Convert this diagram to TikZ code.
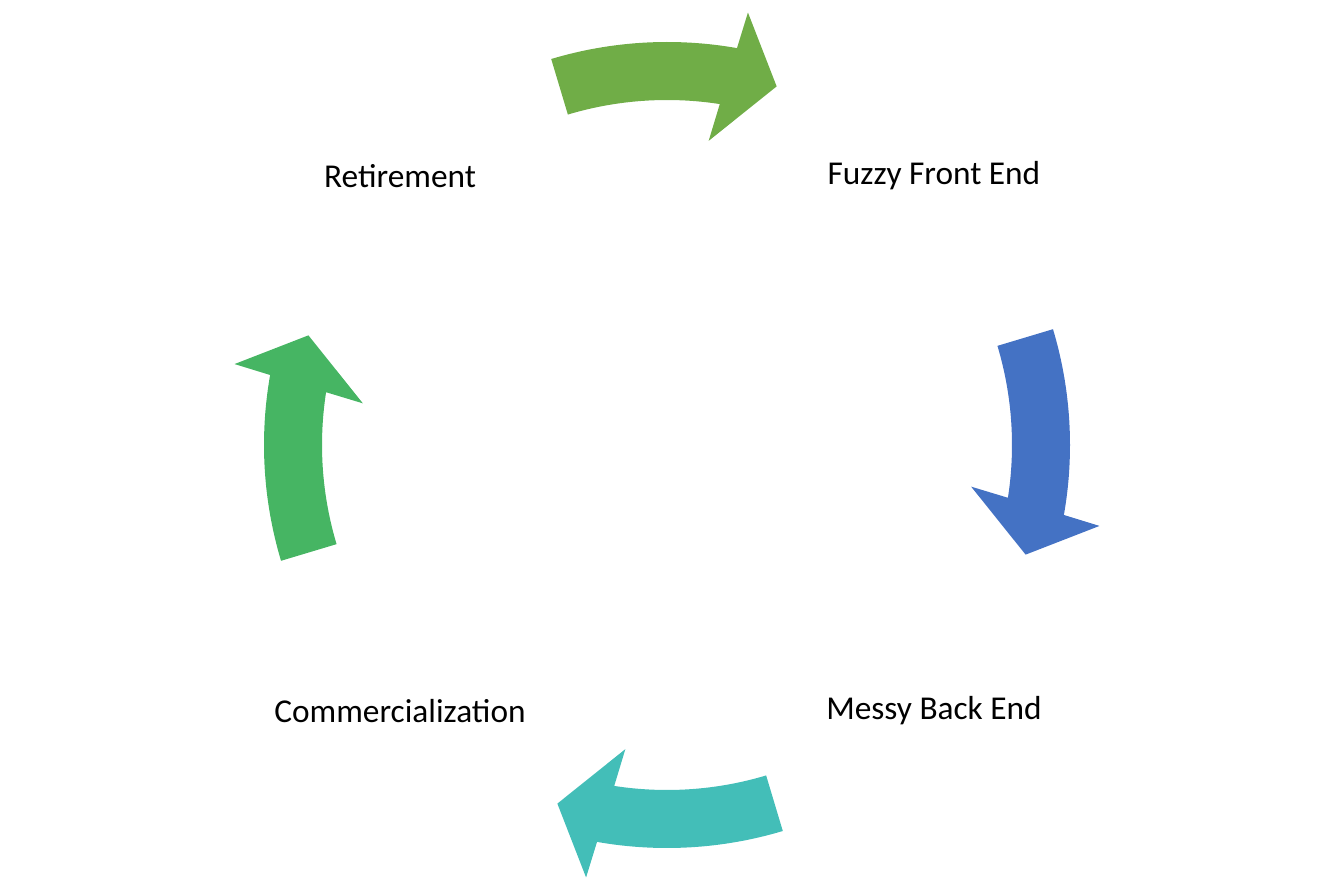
\documentclass[tikz,border=0pt]{standalone}
\usepackage{fontspec}
\setmainfont{Carlito}
\definecolor{cA}{HTML}{70AD47}
\definecolor{cB}{HTML}{4472C4}
\definecolor{cC}{HTML}{43BEB8}
\definecolor{cD}{HTML}{46B563}
\tikzset{lbl/.style={font=\fontsize{25}{30}\selectfont}}
\newcommand{\cycarrow}[2]{%
\fill[#2] ([shift={(667,444)}]#1+16.7:403) arc[start angle=#1+16.7,end angle=#1-10,radius=403]
 -- ([shift={(667,444)}]#1-10.6:440) -- ([shift={(667,444)}]#1-17:375)
 -- ([shift={(667,444)}]#1-7.8:307) -- ([shift={(667,444)}]#1-8.8:345)
 arc[start angle=#1-8.8,end angle=#1+16.7,radius=345] -- cycle;}
\begin{document}
\begin{tikzpicture}[x=0.75pt,y=0.75pt]
\useasboundingbox (0,0) rectangle (1334,889);
\cycarrow{90}{cA}
\cycarrow{0}{cB}
\cycarrow{-90}{cC}
\cycarrow{180}{cD}
\node[lbl] (ret) at (400,713) {Retirement};
\node[lbl] (ffe) at (934,713) {Fuzzy Front End};
\node[lbl] (mbe) at (934,178) {Messy Back End};
\node[lbl] (com) at (400,178) {Commercialization};
\end{tikzpicture}
\end{document}
